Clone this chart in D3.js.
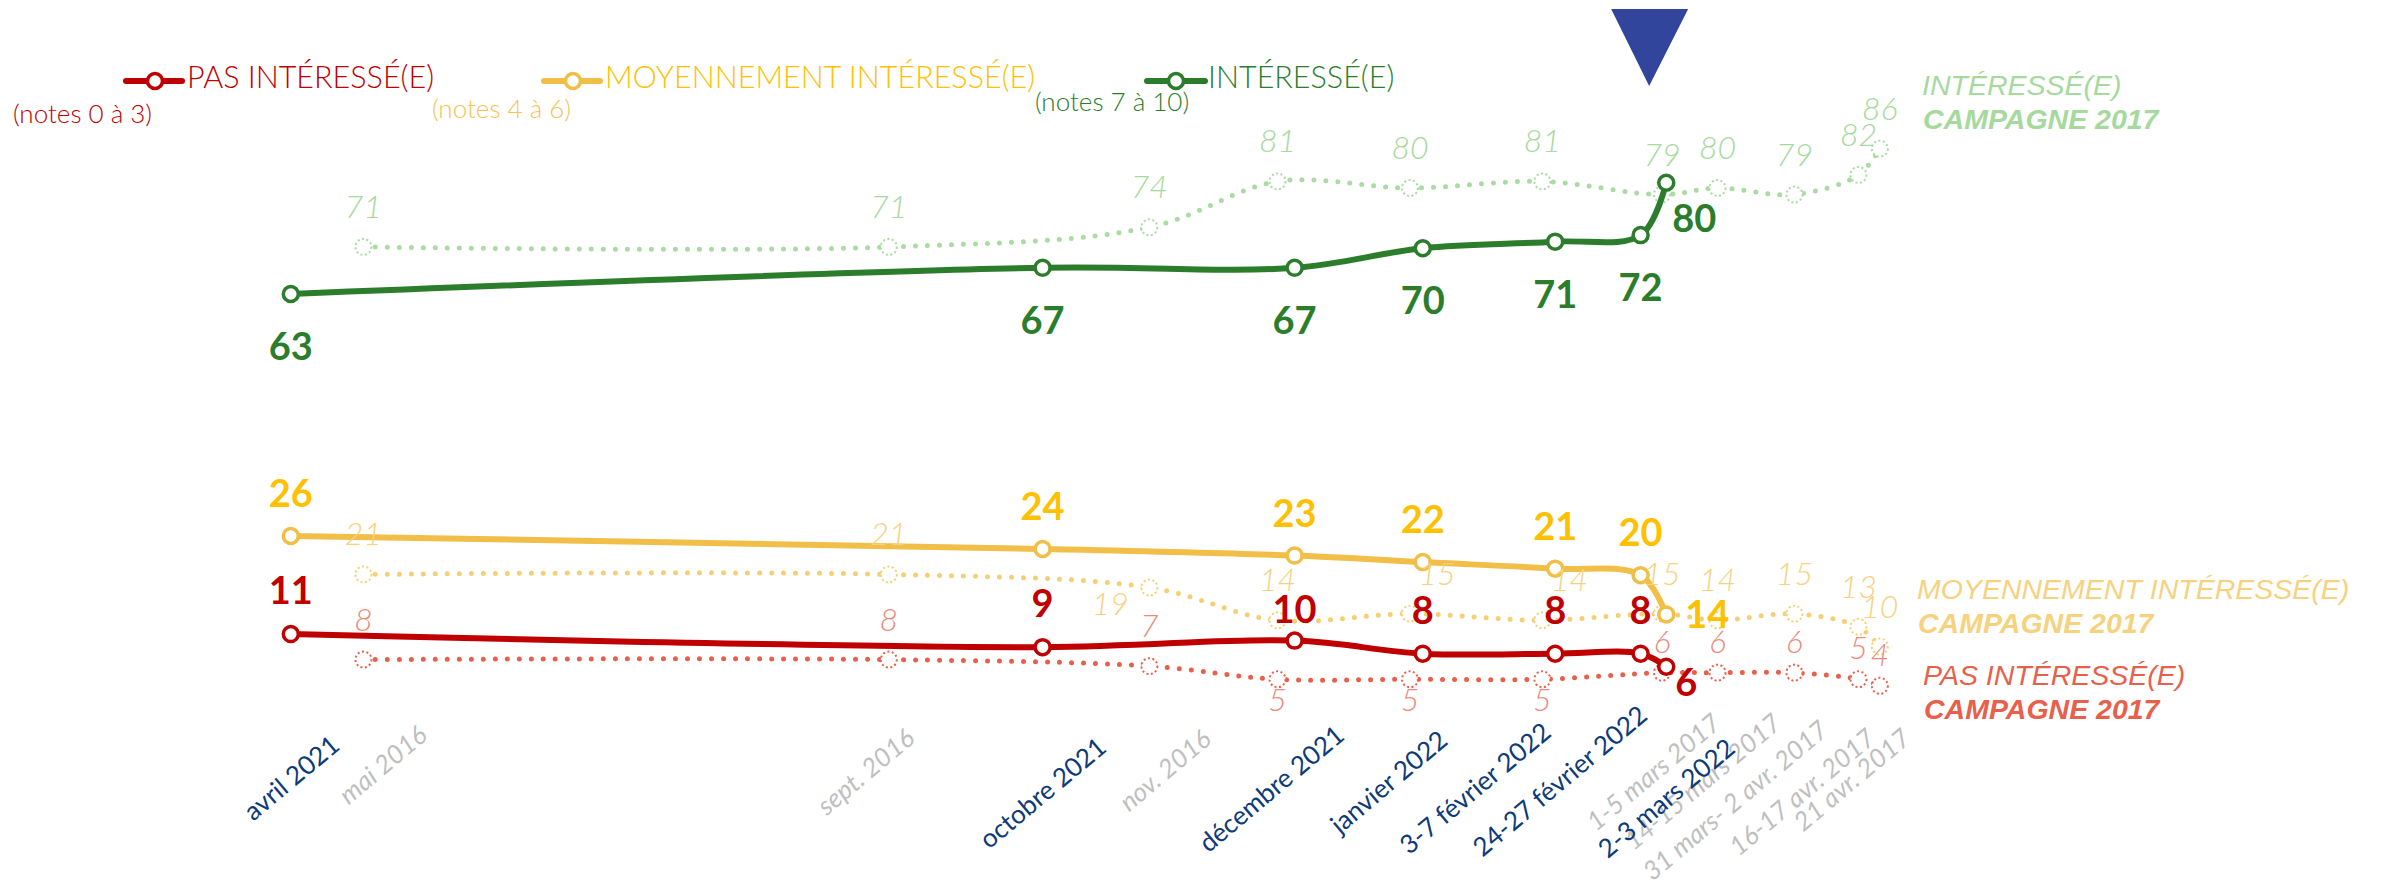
<!DOCTYPE html>
<html><head><meta charset="utf-8">
<script src="https://cdn.jsdelivr.net/npm/d3@7"></script>
<style>html,body{margin:0;padding:0;background:#fff;} svg{display:block;background:#fff}</style>
</head><body><svg id="c" width="2382" height="888"></svg>
<script>
// ---- Campagne 2022 (enquêtes) ----
const dates2022 = ["2021-04-15","2021-10-08","2021-12-06","2022-01-05","2022-02-05","2022-02-25","2022-03-03"];
const labels2022 = ["avril 2021","octobre 2021","décembre 2021","janvier 2022","3-7 février 2022","24-27 février 2022","2-3 mars 2022"];
const interesse2022 = [63,67,67,70,71,72,80];
const moyen2022 = [26,24,23,22,21,20,14];
const pas2022 = [11,9,10,8,8,8,6];

// ---- Campagne 2017 (plotted 5 years later for comparison) ----
const dates2017 = ["2016-05-02","2016-09-02","2016-11-02","2016-12-02","2017-01-02","2017-02-02","2017-03-02","2017-03-15","2017-04-02","2017-04-17","2017-04-22"];
const labels2017 = ["mai 2016","sept. 2016","nov. 2016","","","","1-5 mars 2017","14-15 mars 2017","31 mars- 2 avr. 2017","16-17 avr. 2017","21 avr. 2017"];
const interesse2017 = [71,71,74,81,80,81,79,80,79,82,86];
const moyen2017 = [21,21,19,14,15,14,15,14,15,13,10];
const pas2017 = [8,8,7,5,5,5,6,6,6,5,4];

const legendNames = ["PAS INTÉRESSÉ(E)","MOYENNEMENT INTÉRESSÉ(E)","INTÉRESSÉ(E)"];
const legendNotes = ["(notes 0 à 3)","(notes 4 à 6)","(notes 7 à 10)"];
const sideNames = ["PAS INTÉRESSÉ(E)","MOYENNEMENT INTÉRESSÉ(E)","INTÉRESSÉ(E)"];
const sideSub = "CAMPAGNE 2017";
const eventDate = "2022-02-27";

// ---- layout (label nudges: [dx from tick, baseline y]) ----
const tickLayout22 = [[50,748],[65,750],[51,738],[26,743],[-3,735],[8,718],[70,751]];
const tickLayout17 = [[65,738],[27,741],[63,742],null,null,null,[60,726],[65,726],[35,733],[18,741],[32,741]];

const parse = d3.timeParse("%Y-%m-%d");
const svg = d3.select("#c");
const x = d3.scaleTime().domain([parse("2021-04-01"), parse("2022-04-30")]).range([231, 1914]);
const y = d3.scaleLinear().domain([0,100]).range([706,52]);
const y17 = d3.scaleLinear().domain([0,100]).range([712,57]);
const d22 = dates2022.map(parse);
const d17 = dates2017.map(s => d3.timeYear.offset(parse(s), 5));

const C = {
  red:"#c00000", yellowLine:"#f1be48", yellowText:"#ffc000", green:"#2b7d2b",
  lgreen:"#a9dba2", lgreenT:"#a6d99e", lyellow:"#f6cf74", lyellowT:"#f6d27f",
  lred:"#e8604c", lredT:"#ec8b7d", navy:"#0d3a78", grey:"#bfbfbf", tri:"#30459b"
};
const FONT = "Lato, 'Open Sans', sans-serif";

// ---- x axes (rotated date labels), drawn first ----
const idx17 = labels2017.map((l,i)=>i).filter(i=>labels2017[i]!=="");
const ax17 = d3.axisBottom(x).tickValues(idx17.map(i=>d17[i])).tickSize(0).tickFormat((d,k)=>labels2017[idx17[k]]);
const ga17 = svg.append("g").call(ax17);
ga17.select(".domain").remove();
ga17.selectAll("text").attr("y",0).attr("dy",0).attr("text-anchor","end")
  .attr("transform",(d,k)=>{const L=tickLayout17[idx17[k]]; return `translate(${L[0]},${L[1]}) rotate(-40)`;})
  .attr("font-family",FONT).attr("font-size",26).attr("font-style","italic").attr("fill",C.grey);

const ax22 = d3.axisBottom(x).tickValues(d22).tickSize(0).tickFormat((d,i)=>labels2022[i]);
const ga22 = svg.append("g").call(ax22);
ga22.select(".domain").remove();
ga22.selectAll("text").attr("y",0).attr("dy",0).attr("text-anchor","end")
  .attr("transform",(d,i)=>`translate(${tickLayout22[i][0]},${tickLayout22[i][1]}) rotate(-40)`)
  .attr("font-family",FONT).attr("font-size",26).attr("fill",C.navy);

// ---- 2017 dotted series ----
const s17 = [
  {vals: interesse2017, col: C.lgreen, tcol: C.lgreenT, key:"g"},
  {vals: moyen2017, col: C.lyellow, tcol: C.lyellowT, key:"y"},
  {vals: pas2017, col: C.lred, tcol: C.lredT, key:"r"}
];
const line17 = d3.line().x((d,i)=>x(d17[i])).y(d=>y17(d)).curve(d3.curveCatmullRom.alpha(0.5));
const g17 = svg.append("g");
s17.forEach(s => {
  g17.append("path").attr("d", line17(s.vals)).attr("fill","none").attr("stroke", s.col)
    .attr("stroke-width",5).attr("stroke-linecap","round").attr("stroke-dasharray","0 12");
  g17.selectAll(null).data(s.vals).join("circle")
    .attr("cx",(d,i)=>x(d17[i])).attr("cy",d=>y17(d)).attr("r",8)
    .attr("fill","#fff").attr("stroke",s.col).attr("stroke-width",2).attr("stroke-dasharray","2 2.5");
});

// ---- 2022 solid series ----
const s22 = [
  {vals: interesse2022, col: C.green, tcol: C.green, key:"g"},
  {vals: moyen2022, col: C.yellowLine, tcol: C.yellowText, key:"y"},
  {vals: pas2022, col: C.red, tcol: C.red, key:"r"}
];
const line22 = d3.line().x((d,i)=>x(d22[i])).y(d=>y(d)).curve(d3.curveCatmullRom.alpha(0.5));
const g22 = svg.append("g");
s22.forEach(s => {
  g22.append("path").attr("d", line22(s.vals)).attr("fill","none").attr("stroke", s.col)
    .attr("stroke-width",6).attr("stroke-linecap","round");
  g22.selectAll(null).data(s.vals).join("circle")
    .attr("cx",(d,i)=>x(d22[i])).attr("cy",d=>y(d)).attr("r",7.5)
    .attr("fill","#fff").attr("stroke",s.col).attr("stroke-width",3.5);
});

// ---- 2017 value labels (italic, light) ----
const gl = svg.append("g").attr("font-family",FONT);
s17.forEach(s => {
  gl.selectAll(null).data(s.vals).join("text")
    .attr("x",(d,i)=>{
      let px = x(d17[i]);
      if (s.key==="y" && i===2) px -= 39;
      if (s.key==="y" && (i===4 || i===5)) px += 27;
      return px;
    })
    .attr("y",(d,i)=>{
      const py = y17(d);
      if (s.key==="y" && i===2) return py + 27;
      if (s.key==="r" && i>=3 && i<=5) return py + 32;
      if (s.key==="r" && i>=6) return py - 20;
      return py - 29;
    })
    .attr("text-anchor","middle").attr("font-size",32).attr("font-style","italic")
    .attr("font-weight",300).attr("fill",s.tcol).text(d=>d);
});

// ---- 2022 value labels (bold) ----
const n = dates2022.length;
s22.forEach(s => {
  gl.selectAll(null).data(s.vals).join("text")
    .attr("x",(d,i)=>{
      const px = x(d22[i]);
      if (i===n-1) return px + (s.key==="g" ? 6 : s.key==="y" ? 19 : 9);
      return px;
    })
    .attr("y",(d,i)=>{
      const py = y(d);
      if (s.key==="g") return i===n-1 ? py + 49 : py + 66;
      if (s.key==="y") return i===n-1 ? py + 14 : py - 29;
      if (i===2) return py - 18;
      return i===n-1 ? py + 29 : py - 30;
    })
    .attr("text-anchor",(d,i)=> i===n-1 ? "start" : "middle")
    .attr("font-size",38).attr("font-weight",700).attr("fill",s.tcol).text(d=>d);
});

// ---- event triangle ----
const ex = x(parse(eventDate));
const tp = d3.path();
tp.moveTo(ex-38, 9); tp.lineTo(ex+39, 9); tp.lineTo(ex, 86); tp.closePath();
svg.append("path").attr("d", tp.toString()).attr("fill", C.tri);

// ---- legend ----
const leg = [
  {lx0:126, cx:155, lx1:182, tx:187, nx:13, ny:123, line:C.red, text:C.red, note:C.red},
  {lx0:544, cx:573, lx1:600, tx:605, nx:432, ny:118, line:C.yellowLine, text:C.yellowText, note:"#f5c24f"},
  {lx0:1147, cx:1176, lx1:1205, tx:1208, nx:1035, ny:111, line:C.green, text:C.green, note:C.green}
];
const gL = svg.append("g").attr("font-family",FONT);
leg.forEach((L,i)=>{
  gL.append("line").attr("x1",L.lx0).attr("x2",L.lx1).attr("y1",81).attr("y2",81)
    .attr("stroke",L.line).attr("stroke-width",6).attr("stroke-linecap","round");
  gL.append("circle").attr("cx",L.cx).attr("cy",81).attr("r",7.5).attr("fill","#fff")
    .attr("stroke",L.line).attr("stroke-width",3.5);
  gL.append("text").attr("x",L.tx).attr("y",88).attr("font-size",30.5).attr("font-weight",300)
    .attr("fill",L.text).text(legendNames[i]);
  gL.append("text").attr("x",L.nx).attr("y",L.ny).attr("font-size",26).attr("font-weight",300)
    .attr("fill",L.note).text(legendNotes[i]);
});

// ---- right-side 2017 labels ----
const side = [
  {x:1922, y:95, col:C.lgreenT, name:sideNames[2]},
  {x:1917, y:599, col:C.lyellowT, name:sideNames[1]},
  {x:1923, y:685, col:C.lred, name:sideNames[0]}
];
const gS = svg.append("g").attr("font-family","'Liberation Sans', Arial, sans-serif").attr("font-style","italic");
side.forEach(s=>{
  gS.append("text").attr("x",s.x).attr("y",s.y).attr("font-size",28.5).attr("fill",s.col).text(s.name);
  gS.append("text").attr("x",s.x+1).attr("y",s.y+34).attr("font-size",28.5).attr("font-weight",700)
    .attr("fill",s.col).text(sideSub);
});
</script></body></html>
